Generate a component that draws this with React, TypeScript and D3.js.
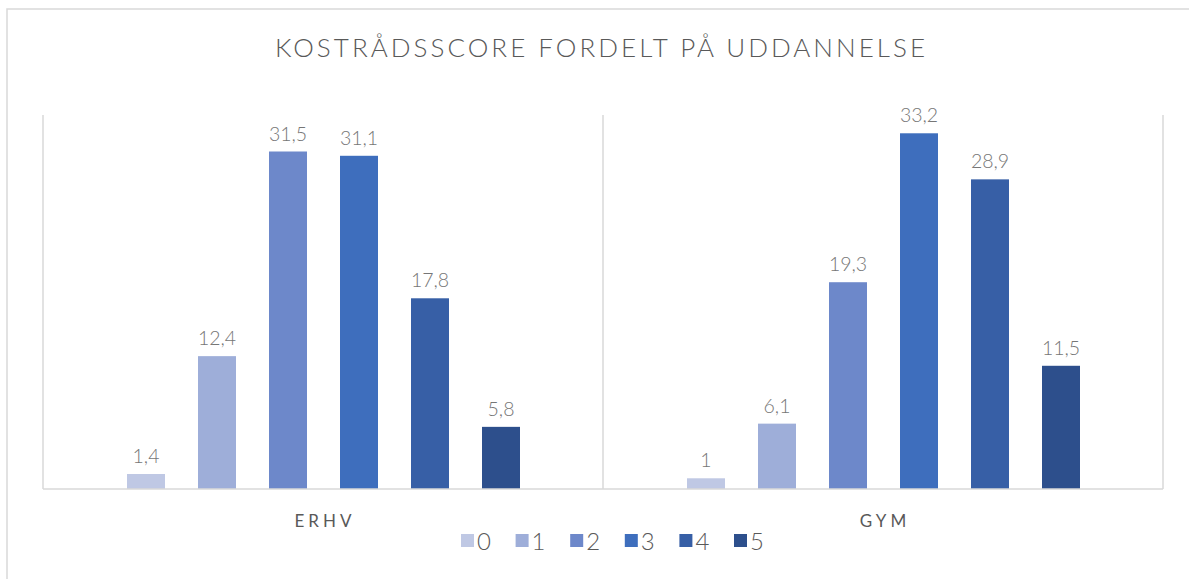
import React, { useEffect, useRef } from 'react';
import * as d3 from 'd3';

// education groups on the x axis
const categories = ['ERHV', 'GYM'];
// score series 0..5
const seriesNames = ['0', '1', '2', '3', '4', '5'];
const erhvValues = [1.4, 12.4, 31.5, 31.1, 17.8, 5.8];
const gymValues = [1, 6.1, 19.3, 33.2, 28.9, 11.5];
const colors = ['#bfc8e4', '#9eaed9', '#6d88ca', '#3e6ebd', '#375fa6', '#2d4f8c'];

const title = 'KOSTRÅDSSCORE FORDELT PÅ UDDANNELSE';

const App = () => {
  const ref = useRef<SVGSVGElement>(null);

  useEffect(() => {
    const width = 1189;
    const height = 579;
    const left = 43;
    const right = 1163;
    const top = 114;
    const bottom = 489;
    const font = 'Lato, "Open Sans", sans-serif';

    const svg = d3.select(ref.current);
    svg.selectAll('*').remove();
    svg.attr('width', width).attr('height', height);

    svg.append('rect').attr('width', width).attr('height', height).attr('fill', '#fff');

    // outer chart border, runs off the picture at right and bottom
    svg
      .append('rect')
      .attr('x', 7)
      .attr('y', 9)
      .attr('width', width + 10)
      .attr('height', height + 10)
      .attr('fill', 'none')
      .attr('stroke', '#d9d9d9')
      .attr('stroke-width', 1.5);

    svg
      .append('text')
      .attr('x', 600)
      .attr('y', 57)
      .attr('text-anchor', 'middle')
      .attr('font-family', font)
      .attr('font-weight', 300)
      .attr('font-size', 26)
      .attr('fill', '#595959')
      .attr('textLength', 650)
      .attr('lengthAdjust', 'spacing')
      .text(title);

    const data = categories.map((c, i) => ({
      cat: c,
      values: i === 0 ? erhvValues : gymValues,
    }));

    const x0 = d3.scaleBand().domain(categories).range([left, right]).padding(0);
    const x1 = d3
      .scaleBand()
      .domain(seriesNames)
      .range([67.5, 493.5])
      .paddingInner(0.465)
      .paddingOuter(0.2325);
    const y = d3.scaleLinear().domain([0, 35]).range([bottom, top]);

    // vertical category separators
    const edges = [left, ...categories.map((c) => (x0(c) as number) + x0.bandwidth())];
    svg
      .selectAll('.sep')
      .data(edges)
      .enter()
      .append('line')
      .attr('x1', (d) => d)
      .attr('x2', (d) => d)
      .attr('y1', y(35) + 1)
      .attr('y2', bottom)
      .attr('stroke', '#d9d9d9')
      .attr('stroke-width', 1.5);

    const g = svg
      .selectAll('.grp')
      .data(data)
      .enter()
      .append('g')
      .attr('transform', (d) => `translate(${x0(d.cat)},0)`);

    g.selectAll('rect')
      .data((d) => d.values.map((v, i) => ({ s: seriesNames[i], v, i })))
      .enter()
      .append('rect')
      .attr('x', (d) => x1(d.s) as number)
      .attr('y', (d) => y(d.v))
      .attr('width', x1.bandwidth())
      .attr('height', (d) => bottom - y(d.v))
      .attr('fill', (d) => colors[d.i]);

    g.selectAll('.lbl')
      .data((d) => d.values.map((v, i) => ({ s: seriesNames[i], v })))
      .enter()
      .append('text')
      .attr('x', (d) => (x1(d.s) as number) + x1.bandwidth() / 2)
      .attr('y', (d) => y(d.v) - 11)
      .attr('text-anchor', 'middle')
      .attr('font-family', font)
      .attr('font-weight', 300)
      .attr('font-size', 19.5)
      .attr('fill', '#767676')
      .text((d) => String(d.v).replace('.', ','));

    // baseline
    svg
      .append('line')
      .attr('x1', left)
      .attr('x2', right)
      .attr('y1', bottom)
      .attr('y2', bottom)
      .attr('stroke', '#d9d9d9')
      .attr('stroke-width', 1.5);

    svg
      .selectAll('.cat')
      .data(categories)
      .enter()
      .append('text')
      .attr('x', (d) => (x0(d) as number) + x0.bandwidth() / 2 + 2)
      .attr('y', 527)
      .attr('text-anchor', 'middle')
      .attr('font-family', font)
      .attr('font-size', 17)
      .attr('letter-spacing', 4)
      .attr('fill', '#595959')
      .text((d) => d);

    // legend
    const lx = d3.scalePoint().domain(seriesNames).range([461, 734]);
    const leg = svg
      .selectAll('.leg')
      .data(seriesNames)
      .enter()
      .append('g')
      .attr('transform', (d) => `translate(${lx(d)},534)`);
    leg
      .append('rect')
      .attr('width', 13)
      .attr('height', 13)
      .attr('fill', (d, i) => colors[i]);
    leg
      .append('text')
      .attr('x', 16)
      .attr('y', 15.5)
      .attr('font-family', font)
      .attr('font-weight', 300)
      .attr('font-size', 24)
      .attr('fill', '#595959')
      .text((d) => d);
  }, []);

  return (
    <svg
      ref={ref}
      style={{ position: 'absolute', left: 0, top: 0, display: 'block' }}
    />
  );
};

export default App;
